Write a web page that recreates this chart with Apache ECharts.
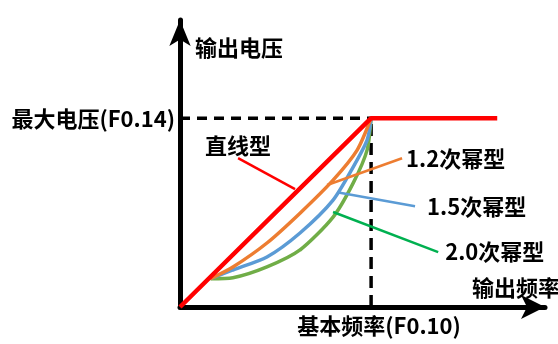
<!DOCTYPE html>
<html>
<head>
<meta charset="utf-8">
<script src="https://cdn.jsdelivr.net/npm/echarts@6/dist/echarts.min.js"></script>
<style>html,body{margin:0;padding:0;background:#fff}#c{width:558px;height:344px}</style>
</head>
<body>
<div id="c"></div>
<script>
// Axis extents (normalized: base frequency = 1, max voltage = 1)
var xMax = 1.91;
var yMax = 1.52;
var baseFreq = 1;
var maxVolt = 1;
var yTickLabel = '最大电压(F0.14)';
var xTickLabel = '基本频率(F0.10)';
var yAxisTitle = '输出电压';
var xAxisTitle = '输出频率';

// Straight line (V/F linear) + plateau
var linear = [[0, 0], [1, 1], [1.66, 1]];
// Power curves, starting at torque boost point
var pow12 = [[0.16, 0.15], [0.277, 0.212], [0.455, 0.339], [0.628, 0.497], [0.801, 0.672], [0.927, 0.831], [1, 1]];
var pow15 = [[0.16, 0.15], [0.277, 0.196], [0.455, 0.265], [0.628, 0.392], [0.801, 0.566], [0.906, 0.741], [0.979, 0.884], [1, 1]];
var pow20 = [[0.16, 0.15], [0.277, 0.155], [0.455, 0.212], [0.628, 0.302], [0.801, 0.476], [0.906, 0.656], [0.979, 0.831], [1, 1]];

// Leader lines for annotations
var leadLinear = [[0.602, 0.624], [0.304, 0.788]];
var lead12 = [[0.770, 0.646], [1.162, 0.788]];
var lead15 = [[0.822, 0.608], [1.230, 0.534]];
var lead20 = [[0.801, 0.503], [1.351, 0.291]];
var names = ['直线型', '1.2次幂型', '1.5次幂型', '2.0次幂型'];

var FONT = '"Noto Sans CJK SC", "Noto Sans", sans-serif';
var txt = {color: '#000', fontSize: 22, fontWeight: 'bold', fontFamily: FONT};

function leader(data, color, name, pos, dist) {
  var d = data.map(function (p, i) {
    if (i === data.length - 1) {
      return {value: p, label: Object.assign({show: true, position: pos, distance: dist, formatter: name}, txt)};
    }
    return {value: p};
  });
  return {type: 'line', data: d, showSymbol: true, symbolSize: 0, silent: true,
    lineStyle: {color: color, width: 2.5}, itemStyle: {color: color}, z: 3, animation: false};
}

var chart = echarts.init(document.getElementById('c'), null, {renderer: 'canvas'});
chart.setOption({
  animation: false,
  grid: {left: 180, right: 13, top: 20, bottom: 37},
  xAxis: {
    type: 'value', min: 0, max: xMax, interval: 1,
    splitLine: {show: false}, axisTick: {show: false},
    axisLine: {lineStyle: {color: '#000', width: 5}, symbol: ['none', 'arrow'], symbolSize: [18, 24]},
    axisLabel: Object.assign({margin: 8, padding: [0, 0, 0, 16], showMaxLabel: false, showMinLabel: false,
      formatter: function (v) { return v === baseFreq ? xTickLabel : ''; }}, txt)
  },
  yAxis: {
    type: 'value', min: 0, max: yMax, interval: 1,
    splitLine: {show: false}, axisTick: {show: false},
    axisLine: {lineStyle: {color: '#000', width: 5}, symbol: ['none', 'arrow'], symbolSize: [16, 26]},
    axisLabel: Object.assign({margin: 5, showMaxLabel: false, showMinLabel: false,
      formatter: function (v) { return v === maxVolt ? yTickLabel : ''; }}, txt)
  },
  graphic: [
    {type: 'text', left: 195, top: 37, style: {text: yAxisTitle, fill: '#000', font: 'bold 22px ' + FONT}},
    {type: 'text', left: 472, top: 277, style: {text: xAxisTitle, fill: '#000', font: 'bold 22px ' + FONT}}
  ],
  series: [
    {type: 'line', data: [[0, maxVolt], [baseFreq, maxVolt]], showSymbol: false, silent: true,
      lineStyle: {color: '#000', width: 3.5, type: [10, 7]}, z: 1},
    {type: 'line', data: [[baseFreq, 0], [baseFreq, maxVolt]], showSymbol: false, silent: true,
      lineStyle: {color: '#000', width: 3.5, type: [12, 7]}, z: 1},
    {type: 'line', data: pow20, smooth: 0.25, showSymbol: false, lineStyle: {color: '#70AD47', width: 3.5}, z: 2},
    {type: 'line', data: pow15, smooth: 0.25, showSymbol: false, lineStyle: {color: '#5B9BD5', width: 3.5}, z: 2},
    {type: 'line', data: pow12, smooth: 0.25, showSymbol: false, lineStyle: {color: '#ED7D31', width: 3.5}, z: 2},
    {type: 'line', data: linear, showSymbol: false, lineStyle: {color: '#FF0000', width: 4.5}, z: 4},
    leader(leadLinear, '#FF0000', names[0], 'top', 2),
    leader(lead12, '#ED7D31', names[1], 'right', 4),
    leader(lead15, '#5B9BD5', names[2], 'right', 12),
    leader(lead20, '#00B050', names[3], 'right', 7)
  ]
});
</script>
</body>
</html>
